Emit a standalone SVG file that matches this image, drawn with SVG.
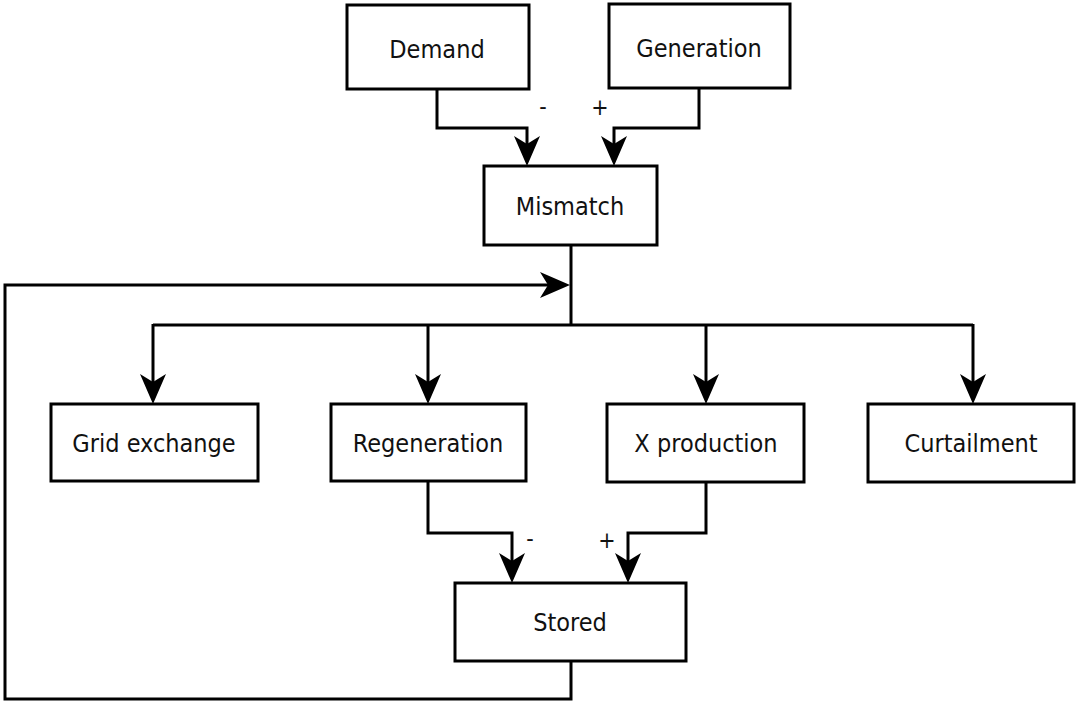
<svg xmlns="http://www.w3.org/2000/svg" width="1077" height="704" viewBox="0 0 1077 704">
  <style>
    .box { fill: #ffffff; stroke: #000000; stroke-width: 3; }
    .lbl { font-family: "DejaVu Sans Condensed", "DejaVu Sans", sans-serif; font-stretch: condensed; font-size: 25px; fill: #111111; text-anchor: middle; }
    .sign { font-family: "DejaVu Sans Condensed", "DejaVu Sans", sans-serif; font-stretch: condensed; font-size: 23px; fill: #111111; text-anchor: middle; }
    .wire { fill: none; stroke: #000000; stroke-width: 3; stroke-linejoin: miter; }
    .arrow { fill: none; stroke: #000000; stroke-width: 3; marker-end: url(#head); }
  </style>
  <defs>
    <marker id="head" markerUnits="userSpaceOnUse" viewBox="0 0 30 28" markerWidth="30" markerHeight="28" refX="22" refY="14" orient="auto">
      <path d="M0,1 L30,14 L0,27 L8,14 Z" fill="#000000"/>
    </marker>
  </defs>
  <rect width="1077" height="704" fill="#ffffff"/>

  <g id="connectors">
    <!-- inputs into the mismatch -->
    <path class="arrow" d="M437,89 V128 H527 V158"/>
    <path class="arrow" d="M699,88 V128 H614 V158"/>
    <text class="sign" x="543" y="114">-</text>
    <text class="sign" x="600" y="115">+</text>
    <!-- mismatch distribution bus -->
    <path class="wire" d="M571,245 V325"/>
    <path class="wire" d="M153,325 H973"/>
    <path class="arrow" d="M153,324 V396"/>
    <path class="arrow" d="M428,324 V396"/>
    <path class="arrow" d="M706,324 V396"/>
    <path class="arrow" d="M973,324 V396"/>
    <!-- flows into storage -->
    <path class="arrow" d="M428,482 V533 H512 V575"/>
    <path class="arrow" d="M706,482 V533 H628 V575"/>
    <text class="sign" x="530" y="546">-</text>
    <text class="sign" x="607" y="548">+</text>
    <!-- storage feedback loop -->
    <path class="arrow" d="M571,661 V699 H5 V285 H562"/>
  </g>

  <g id="demand">
    <rect class="box" x="347" y="5" width="182" height="84"/>
    <text class="lbl" x="437" y="58">Demand</text>
  </g>
  <g id="generation">
    <rect class="box" x="609" y="4" width="181" height="84"/>
    <text class="lbl" x="699" y="57">Generation</text>
  </g>
  <g id="mismatch">
    <rect class="box" x="484" y="166" width="173" height="79"/>
    <text class="lbl" x="570" y="215">Mismatch</text>
  </g>
  <g id="grid-exchange">
    <rect class="box" x="51" y="404" width="207" height="77"/>
    <text class="lbl" x="154" y="452">Grid exchange</text>
  </g>
  <g id="regeneration">
    <rect class="box" x="331" y="404" width="195" height="77"/>
    <text class="lbl" x="428" y="452">Regeneration</text>
  </g>
  <g id="x-production">
    <rect class="box" x="607" y="404" width="197" height="78"/>
    <text class="lbl" x="706" y="452">X production</text>
  </g>
  <g id="curtailment">
    <rect class="box" x="868" y="404" width="206" height="78"/>
    <text class="lbl" x="971" y="452">Curtailment</text>
  </g>
  <g id="stored">
    <rect class="box" x="455" y="583" width="231" height="78"/>
    <text class="lbl" x="570" y="631">Stored</text>
  </g>
</svg>
